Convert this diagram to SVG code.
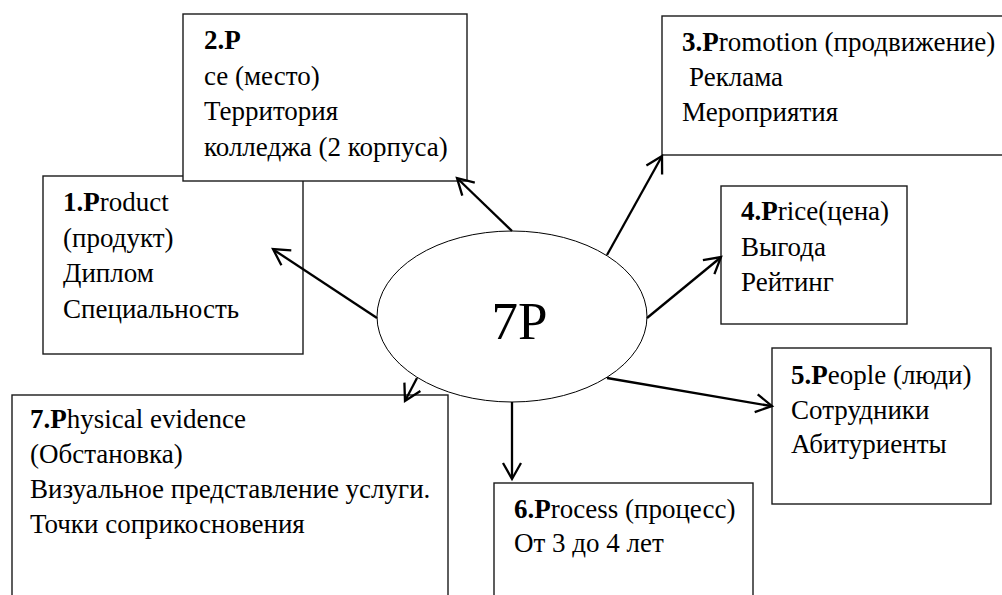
<svg xmlns="http://www.w3.org/2000/svg" width="1002" height="595" viewBox="0 0 1002 595">
<rect width="1002" height="595" fill="#fff"/>

<g font-size="27" fill="#000">
<g id="node-1">
  <rect x="43" y="176" width="260" height="178" fill="#fff" stroke="#1a1a1a" stroke-width="1.4"/>
  <text font-family="Liberation Serif" x="63" y="211"><tspan font-weight="bold">1.P</tspan>roduct</text>
  <text font-family="Liberation Serif" x="63" y="246.5">(продукт)</text>
  <text font-family="Liberation Serif" x="63" y="282">Диплом</text>
  <text font-family="Liberation Serif" x="63" y="317.5">Специальность</text>
</g>

<g id="node-2">
  <rect x="183" y="14" width="284" height="167" fill="#fff" stroke="#1a1a1a" stroke-width="1.4"/>
  <text font-family="Liberation Serif" x="204" y="49" font-weight="bold">2.P</text>
  <text font-family="Liberation Serif" x="204" y="85">се (место)</text>
  <text font-family="Liberation Serif" x="204" y="120">Территория</text>
  <text font-family="Liberation Serif" x="204" y="156">колледжа (2 корпуса)</text>
</g>

<g id="node-3">
  <rect x="662" y="16" width="345" height="139" fill="#fff" stroke="#1a1a1a" stroke-width="1.4"/>
  <text font-family="Liberation Serif" x="682" y="51"><tspan font-weight="bold">3.P</tspan>romotion (продвижение)</text>
  <text font-family="Liberation Serif" x="689" y="86">Реклама</text>
  <text font-family="Liberation Serif" x="682" y="121">Мероприятия</text>
</g>

<g id="node-4">
  <rect x="721" y="186" width="186" height="138" fill="#fff" stroke="#1a1a1a" stroke-width="1.4"/>
  <text font-family="Liberation Serif" x="741" y="220"><tspan font-weight="bold">4.P</tspan>rice(цена)</text>
  <text font-family="Liberation Serif" x="741" y="256">Выгода</text>
  <text font-family="Liberation Serif" x="741" y="291">Рейтинг</text>
</g>

<g id="node-5">
  <rect x="772" y="348" width="219" height="156" fill="#fff" stroke="#1a1a1a" stroke-width="1.4"/>
  <text font-family="Liberation Serif" x="791" y="384"><tspan font-weight="bold">5.P</tspan>eople (люди)</text>
  <text font-family="Liberation Serif" x="791" y="419">Сотрудники</text>
  <text font-family="Liberation Serif" x="791" y="453">Абитуриенты</text>
</g>

<g id="node-6">
  <rect x="494" y="483" width="259" height="130" fill="#fff" stroke="#1a1a1a" stroke-width="1.4"/>
  <text font-family="Liberation Serif" x="514" y="518"><tspan font-weight="bold">6.P</tspan>rocess (процесс)</text>
  <text font-family="Liberation Serif" x="514" y="552">От 3 до 4 лет</text>
</g>

<g id="node-7">
  <rect x="12" y="395" width="436" height="220" fill="#fff" stroke="#1a1a1a" stroke-width="1.4"/>
  <text font-family="Liberation Serif" x="30" y="428"><tspan font-weight="bold">7.P</tspan>hysical evidence</text>
  <text font-family="Liberation Serif" x="30" y="463">(Обстановка)</text>
  <text font-family="Liberation Serif" x="30" y="498">Визуальное представление услуги.</text>
  <text font-family="Liberation Serif" x="30" y="533">Точки соприкосновения</text>
</g>

<g id="node-center">
  <ellipse cx="512" cy="316.5" rx="135" ry="85.5" fill="#fff" stroke="#000" stroke-width="1"/>
  <text font-family="Liberation Serif" font-size="53" x="519.5" y="339" text-anchor="middle">7P</text>
</g>
</g>

<g id="connectors" stroke="#000" stroke-width="2.3" fill="none">
  <line x1="377" y1="318" x2="274" y2="250"/>
  <polyline points="291.3,250.3 273,249 281.4,265.3"/>
  <line x1="512" y1="231" x2="458" y2="179"/>
  <polyline points="474.8,182.6 457,178 462.3,195.6"/>
  <line x1="607" y1="255" x2="661.5" y2="157"/>
  <polyline points="662.1,174.4 662,156 646.4,165.6"/>
  <line x1="647" y1="318" x2="720" y2="258"/>
  <polyline points="714.4,274.1 721,257 702.9,260.2"/>
  <line x1="607" y1="378" x2="771" y2="406"/>
  <polyline points="754.7,412.2 772,406 757.7,394.4"/>
  <line x1="512" y1="402" x2="512" y2="478"/>
  <polyline points="503,463 512,479 521,463"/>
  <line x1="417" y1="378" x2="405.5" y2="400"/>
  <polyline points="404.4,382.6 405,401 420.4,391.0"/>
</g>
</svg>
